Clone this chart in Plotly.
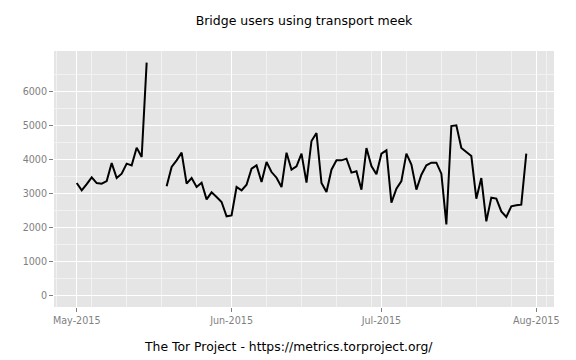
import pandas as pd
import plotly.graph_objects as go

dates = pd.date_range("2015-05-01", "2015-07-30", freq="D")

may_users = [3311, 3096, 3282, 3479, 3311, 3291, 3370, 3900, 3458, 3587,
             3882, 3832, 4354, 4077, 6860, None, None, None,
             3213, 3783, 3980, 4206, 3292, 3459, 3194, 3321, 2830, 3037,
             2899, 2752, 2329]
jun_users = [2358, 3194, 3096, 3262, 3734, 3832, 3340, 3930, 3635, 3468,
             3194, 4206, 3705, 3803, 4177, 3321, 4550, 4786, 3311, 3046,
             3705, 3980, 3980, 4030, 3617, 3656, 3116, 4343, 3813, 3567]
jul_users = [4177, 4275, 2733, 3145, 3370, 4177, 3853, 3116, 3557, 3832,
             3911, 3911, 3587, 2093, 4991, 5012, 4343, 4225, 4107, 2851,
             3459, 2182, 2880, 2851, 2476, 2309, 2624, 2653, 2673, 4177]
users = may_users + jun_users + jul_users

y_ticks = [0, 1000, 2000, 3000, 4000, 5000, 6000]

title_text = "Bridge users using transport meek"
caption_text = "The Tor Project - https://metrics.torproject.org/"

FONT = "DejaVu Sans"
GREY50 = "#7f7f7f"

fig = go.Figure()
fig.add_trace(go.Scatter(
    x=dates, y=users, mode="lines",
    line=dict(color="black", width=2),
    connectgaps=False, showlegend=False,
))

fig.update_layout(
    template="none",
    width=576, height=360,
    margin=dict(l=54, r=22, t=51, b=53, autoexpand=False),
    paper_bgcolor="white",
    plot_bgcolor="#e5e5e5",
    font=dict(family=FONT),
    title=dict(text=title_text, x=0.5, xref="paper", y=1 - 21 / 360,
               yref="container", xanchor="center", yanchor="middle",
               font=dict(family=FONT, size=12.5, color="black")),
    annotations=[dict(text=caption_text, xref="paper", yref="paper",
                      x=(288 - 54) / 500, y=-(346 - 306.7) / 256,
                      xanchor="center", yanchor="middle", showarrow=False,
                      font=dict(family=FONT, size=12.4, color="black"))],
)

fig.update_xaxes(
    type="date", automargin=False,
    range=["2015-04-26 10:48", "2015-08-04 13:12"],
    tick0="2015-05-01", dtick="M1", tickformat="%b-%Y",
    ticks="outside", ticklen=4, tickcolor=GREY50, tickwidth=1,
    tickfont=dict(family=FONT, size=9.6, color=GREY50),
    showgrid=True, gridcolor="white", gridwidth=1.1,
    minor=dict(tick0="2015-05-04", dtick=7 * 86400000, showgrid=True,
               gridcolor="#f2f2f2", gridwidth=0.5, ticks=""),
    showline=False, zeroline=False,
)
fig.update_yaxes(
    automargin=False,
    range=[-343, 7203],
    tickmode="array", tickvals=y_ticks,
    ticks="outside", ticklen=4, tickcolor=GREY50, tickwidth=1,
    tickfont=dict(family=FONT, size=9.6, color=GREY50),
    showgrid=True, gridcolor="white", gridwidth=1.1,
    minor=dict(tick0=500, dtick=1000, showgrid=True,
               gridcolor="#f2f2f2", gridwidth=0.5, ticks=""),
    showline=False, zeroline=False,
)

fig.write_html("out.html",
               config={"displayModeBar": False},
               post_script="document.body.style.margin='0';")
